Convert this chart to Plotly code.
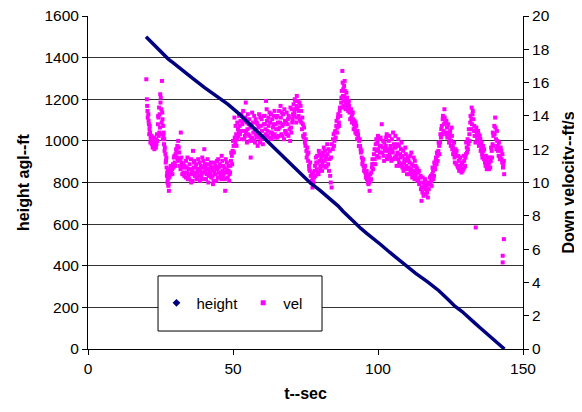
import plotly.graph_objects as go

# ---- data ----
# height above ground (ft) vs time (s)
height_t = [20, 22, 24, 26, 27.7, 29.3, 33, 36, 40.2, 44, 48.3, 52.4, 55.2, 58, 62.1, 65,
            69, 72, 74, 76.4, 80, 84, 86.2, 88, 90, 92, 94.2, 96, 98, 101, 104, 107,
            109.8, 113, 117, 121, 124, 126.5, 129, 131, 133.5, 135.2, 137, 139, 141, 143.6]
height_h = [1500, 1472, 1446, 1418, 1393, 1376, 1333, 1301, 1256, 1218, 1175, 1126, 1088, 1051, 994, 955,
            901, 858, 830, 801, 762, 717, 688, 661, 633, 606, 578, 557, 536, 501, 465, 430,
            398, 363, 324, 280, 240, 206, 180, 157, 123, 102, 81, 59, 33, 0]

# down velocity (ft/s) samples (t, v), read along the cloud
vel_samples = [
    (20.1, 16.2), (20.4, 14.6), (20.6, 13.9), (20.8, 14.1), (21.0, 13.5), (21.2, 13.2), (21.4, 13.0),
    (21.6, 12.7), (21.8, 12.5), (22.0, 12.3), (22.3, 12.1), (22.6, 12.4), (22.9, 12.0), (23.2, 12.2),
    (23.5, 12.6), (23.8, 12.9),
    (24.1, 13.5), (24.3, 13.9), (24.5, 14.5), (24.6, 13.0), (24.7, 14.1), (24.9, 15.3), (25.0, 14.8),
    (25.1, 15.1), (25.3, 14.4), (25.4, 13.6), (25.5, 16.1), (25.7, 13.8), (25.9, 13.4), (26.0, 12.8),
    (26.1, 13.0), (26.3, 12.6), (26.5, 12.1),
    (26.7, 11.7), (26.9, 11.3), (27.1, 10.9), (27.3, 10.6), (27.5, 10.2), (27.7, 9.8), (27.9, 9.5),
    (28.1, 10.4), (28.3, 10.8), (28.6, 10.7),
    (29.0, 10.8), (29.3, 11.1), (29.6, 11.5), (29.9, 11.2), (30.2, 11.7), (30.5, 11.9), (30.8, 12.2),
    (31.1, 12.5), (31.4, 11.8), (31.7, 11.4), (32.0, 13.0), (32.3, 11.2), (32.6, 10.9), (32.9, 10.6),
    (33.2, 10.4), (33.5, 10.9), (33.8, 11.3), (34.1, 10.6), (34.4, 10.2), (34.7, 10.8), (35.0, 11.1),
    (35.3, 10.5), (35.6, 10.0), (35.9, 10.7), (36.2, 11.9), (36.5, 11.2), (36.8, 10.4), (37.1, 10.9),
    (37.4, 10.3), (37.7, 10.6), (38.0, 11.4), (38.3, 10.8), (38.6, 10.1), (38.9, 11.0), (39.2, 10.5),
    (39.5, 10.9), (39.8, 11.3), (40.1, 12.0), (40.4, 10.7), (40.7, 10.2), (41.0, 10.8), (41.3, 11.1),
    (41.6, 10.4), (41.9, 10.6), (42.2, 11.0), (42.5, 10.3), (42.8, 10.7), (43.1, 9.9), (43.4, 10.9),
    (43.7, 11.2), (44.0, 10.5), (44.3, 10.1), (44.6, 10.8), (44.9, 11.4), (45.2, 10.6), (45.5, 10.3),
    (45.8, 11.0), (46.1, 11.6), (46.4, 10.7), (46.7, 10.4), (47.0, 10.9), (47.3, 9.5), (47.6, 10.6),
    (47.9, 11.2),
    (48.2, 10.3), (48.5, 10.7), (48.8, 10.5), (49.1, 11.0), (49.3, 11.3), (49.6, 11.6), (49.9, 11.9),
    (50.2, 12.2), (50.5, 13.9), (50.8, 12.4), (51.1, 12.9), (51.4, 12.6), (51.7, 13.2), (52.0, 13.0),
    (52.3, 13.4), (52.6, 13.7), (52.9, 14.1), (53.2, 13.5),
    (53.5, 14.3), (53.8, 13.1), (54.1, 12.8), (54.4, 14.8), (54.7, 13.6), (55.0, 13.2), (55.3, 12.9),
    (55.6, 13.8), (55.9, 12.5), (56.1, 11.5), (56.4, 13.4), (56.7, 12.7), (57.0, 13.0), (57.3, 14.0),
    (57.6, 12.4), (57.9, 12.9), (58.2, 13.6), (58.5, 12.2), (58.8, 13.3), (59.1, 12.7), (59.4, 13.9),
    (59.7, 12.6), (60.0, 13.1), (60.3, 12.3), (60.6, 13.5),
    (60.9, 14.0), (61.2, 13.2), (61.4, 14.9), (61.7, 13.7), (62.0, 12.8), (62.3, 13.4), (62.6, 14.2),
    (62.9, 13.0), (63.2, 12.6), (63.5, 13.8), (63.8, 13.3), (64.1, 14.0), (64.4, 12.9), (64.7, 13.5),
    (65.0, 13.9), (65.3, 12.7), (65.6, 13.2), (65.9, 14.3), (66.2, 13.6), (66.4, 14.6), (66.7, 12.9),
    (67.0, 13.4), (67.3, 14.1), (67.6, 12.6), (67.9, 13.7), (68.2, 13.0), (68.5, 14.2), (68.8, 13.5),
    (69.1, 12.8), (69.4, 13.9), (69.7, 12.5), (70.0, 13.3), (70.3, 14.4), (70.6, 13.8),
    (70.9, 14.7), (71.2, 14.2), (71.5, 14.9), (71.8, 13.6), (72.0, 15.2), (72.3, 14.5), (72.6, 14.0),
    (72.9, 14.8), (73.2, 13.7), (73.5, 14.3),
    (73.8, 13.2), (74.1, 13.5), (74.4, 12.7), (74.7, 12.9), (75.0, 12.2), (75.3, 11.9), (75.6, 12.1),
    (75.9, 11.3), (76.2, 11.0), (76.5, 10.7), (76.8, 10.4), (77.1, 10.1), (77.4, 9.7), (77.7, 10.6),
    (78.0, 10.3), (78.3, 11.0), (78.6, 11.5), (78.9, 10.8), (79.2, 11.2), (79.5, 10.5), (79.8, 11.7),
    (80.1, 11.0), (80.4, 11.4), (80.7, 10.7), (81.0, 11.8), (81.3, 12.1), (81.6, 11.3), (81.9, 10.9),
    (82.2, 11.6), (82.5, 12.3), (82.8, 11.1), (83.1, 10.7), (83.4, 11.9), (83.7, 10.0), (84.0, 9.7),
    (84.1, 12.3),
    (84.4, 12.0), (84.7, 12.9), (85.0, 12.5), (85.3, 13.1), (85.6, 13.4), (85.9, 13.0), (86.2, 13.9),
    (86.5, 13.6), (86.8, 14.3), (87.0, 14.0),
    (87.3, 14.8), (87.5, 15.5), (87.7, 16.7), (87.9, 15.2), (88.1, 14.6), (88.3, 15.8), (88.5, 16.1),
    (88.7, 15.0), (88.9, 14.7), (89.1, 15.4), (89.3, 15.1), (89.5, 14.5), (89.8, 14.8), (90.0, 14.6),
    (90.2, 14.2),
    (90.5, 14.3), (90.8, 13.9), (91.1, 14.1), (91.4, 13.8), (91.7, 13.5), (92.0, 13.3), (92.3, 13.6),
    (92.6, 12.9), (92.9, 13.1), (93.2, 12.7), (93.5, 12.5), (93.8, 12.2), (94.1, 11.8),
    (94.4, 11.5), (94.7, 11.3), (95.0, 11.0), (95.3, 10.9), (95.6, 10.6), (95.9, 10.5), (96.2, 10.2),
    (96.5, 10.0), (96.8, 10.3), (97.1, 9.5), (97.4, 10.1), (97.7, 10.6),
    (98.0, 11.1), (98.3, 10.8), (98.6, 11.7), (98.9, 11.4), (99.2, 12.3), (99.5, 11.9), (99.8, 12.4),
    (100.1, 12.0), (100.4, 12.6), (100.7, 11.8), (101.0, 12.2), (101.3, 13.5),
    (101.6, 12.1), (101.9, 11.6), (102.2, 12.4), (102.5, 11.9), (102.8, 12.7), (103.1, 11.4),
    (103.4, 12.0), (103.7, 12.5), (104.0, 11.7), (104.3, 12.2), (104.6, 11.3), (104.9, 11.9),
    (105.2, 13.0), (105.5, 12.3), (105.8, 11.5), (106.1, 12.1), (106.4, 11.0), (106.7, 11.8),
    (107.0, 12.6), (107.3, 11.2), (107.6, 11.7), (107.9, 12.0), (108.2, 11.1), (108.5, 11.6),
    (108.8, 10.7), (109.1, 11.4), (109.4, 12.1), (109.7, 11.0), (110.0, 10.5),
    (110.3, 11.5), (110.6, 10.9), (110.9, 11.2), (111.2, 10.6), (111.5, 11.8), (111.8, 10.3),
    (112.1, 11.0), (112.4, 10.7), (112.7, 11.3), (113.0, 10.4), (113.3, 10.9), (113.6, 10.1),
    (113.9, 10.6), (114.2, 9.9), (114.5, 10.3), (114.8, 9.6), (115.0, 8.9), (115.3, 9.4),
    (115.6, 10.0), (115.9, 9.7), (116.2, 10.2), (116.5, 9.3), (116.8, 9.8), (117.2, 9.1), (117.5, 9.6),
    (117.8, 10.0), (118.1, 9.9), (118.4, 10.1), (118.7, 10.5), (119.0, 10.7), (119.3, 10.4),
    (119.6, 11.0), (119.9, 11.3), (120.2, 11.1), (120.5, 11.6), (120.8, 11.9), (121.1, 12.2), (121.4, 12.4),
    (121.7, 12.7), (122.0, 13.4), (122.3, 13.8), (122.6, 13.1), (122.9, 14.4), (123.2, 13.6),
    (123.5, 12.9), (123.8, 13.3), (124.1, 12.8), (124.4, 13.0), (124.7, 12.6), (124.9, 13.1),
    (125.2, 12.5), (125.5, 12.8),
    (125.8, 12.2), (126.1, 11.8), (126.4, 11.5), (126.7, 12.0), (127.0, 11.1), (127.3, 11.6),
    (127.6, 10.9), (127.9, 11.3), (128.2, 10.8), (128.5, 11.0), (128.8, 10.6), (129.1, 11.2),
    (129.4, 10.8), (129.7, 11.3), (130.0, 11.0), (130.3, 11.7), (130.6, 12.1), (130.9, 12.6),
    (131.2, 12.3), (131.5, 12.9), (131.8, 13.6), (132.1, 13.2), (132.3, 14.5), (132.6, 14.1),
    (132.9, 13.8), (133.2, 13.4),
    (133.5, 13.1), (133.7, 7.3), (133.8, 12.8), (134.1, 13.0), (134.4, 12.5), (134.7, 12.9),
    (135.0, 12.3), (135.3, 12.6), (135.6, 12.0), (135.9, 11.7), (136.2, 12.2), (136.5, 11.4),
    (136.8, 11.6), (137.1, 11.0), (137.4, 11.3), (137.7, 10.9), (138.0, 11.2), (138.3, 10.8), (138.6, 11.5),
    (138.9, 11.3), (139.2, 11.9), (139.5, 12.3), (139.8, 12.8), (140.1, 13.4), (140.4, 13.9),
    (140.7, 12.6), (141.0, 13.1), (141.3, 12.2), (141.6, 11.6), (141.9, 12.0),
    (142.2, 11.6), (142.5, 11.9), (142.8, 11.2), (143.1, 10.9), (143.5, 10.5),
    (143.4, 6.6), (143.0, 5.6), (143.0, 5.2),
]

# further velocity samples in between (the cloud is dense)
vel_samples_more = [
    (20.3, 15.0), (20.5, 14.3), (20.9, 13.7), (21.1, 12.9), (21.3, 13.4), (21.5, 12.4), (21.9, 12.8),
    (22.1, 12.6), (22.5, 12.2), (22.8, 12.7), (23.0, 12.4), (23.4, 12.1), (23.6, 12.3), (23.9, 12.5),
    (24.2, 14.0), (24.4, 12.8), (24.8, 13.3), (25.2, 12.9), (25.6, 14.2), (25.8, 12.6), (26.2, 12.3),
    (26.4, 11.9),
    (26.8, 11.2), (27.0, 11.5), (27.2, 10.4), (27.4, 10.0), (27.6, 10.7), (27.8, 9.9), (28.0, 10.3),
    (28.2, 10.6), (28.5, 11.0), (28.8, 10.5),
    (29.1, 10.5), (29.5, 10.9), (29.8, 11.6), (30.1, 11.0), (30.4, 12.0), (30.7, 11.5), (31.0, 11.3),
    (31.3, 12.1), (31.6, 11.0), (31.9, 10.8), (32.2, 11.5), (32.5, 10.5), (32.8, 11.1),
    (33.3, 11.0), (33.7, 10.3), (34.0, 10.9), (34.3, 11.5), (34.6, 10.4), (34.9, 10.2), (35.2, 10.8),
    (35.5, 11.4), (35.8, 10.5), (36.1, 10.1), (36.4, 10.9), (36.7, 11.3), (37.0, 10.6), (37.3, 11.1),
    (37.6, 10.2), (37.9, 10.8), (38.2, 10.4), (38.5, 11.2), (38.8, 10.7), (39.1, 10.3), (39.4, 11.5),
    (39.7, 10.6), (40.0, 10.2), (40.3, 11.1), (40.6, 10.9), (40.9, 10.5), (41.2, 11.4), (41.5, 10.0),
    (41.8, 10.8), (42.1, 10.5), (42.4, 11.2), (42.7, 10.9), (43.0, 10.4), (43.3, 10.1), (43.6, 10.6),
    (43.9, 11.0), (44.2, 10.8), (44.5, 11.3), (44.8, 10.3), (45.1, 10.9), (45.4, 11.1), (45.7, 10.5),
    (46.0, 10.2), (46.3, 11.3), (46.6, 11.0), (46.9, 10.6), (47.2, 10.2), (47.5, 11.4), (47.8, 10.8),
    (48.4, 11.0), (48.7, 10.1), (49.0, 10.6), (49.4, 11.8), (49.7, 11.1), (50.0, 12.5), (50.3, 11.8),
    (50.6, 12.7), (50.9, 13.4), (51.2, 12.2), (51.5, 13.6), (51.8, 12.8), (52.1, 14.0), (52.4, 12.9),
    (52.7, 13.1), (53.0, 12.6),
    (53.6, 13.7), (53.9, 12.6), (54.2, 13.9), (54.5, 13.0), (54.8, 12.4), (55.1, 14.1), (55.4, 13.5),
    (55.7, 12.8), (56.0, 13.3), (56.3, 12.6), (56.6, 14.2), (56.9, 13.6), (57.2, 12.5), (57.5, 13.2),
    (57.8, 13.8), (58.1, 12.7), (58.4, 13.5), (58.7, 12.9), (59.0, 14.1), (59.3, 12.4), (59.6, 13.4),
    (59.9, 13.8), (60.2, 12.8), (60.5, 14.0), (60.8, 12.7),
    (61.0, 13.5), (61.3, 12.9), (61.6, 14.4), (61.9, 13.1), (62.2, 13.9), (62.5, 12.7), (62.8, 13.6),
    (63.1, 14.1), (63.4, 13.0), (63.7, 12.8), (64.0, 13.5), (64.3, 14.3), (64.6, 12.7), (64.9, 13.2),
    (65.2, 14.0), (65.5, 13.6), (65.8, 12.8), (66.1, 13.3), (66.5, 13.9), (66.8, 14.2), (67.1, 12.8),
    (67.4, 13.5), (67.7, 14.4), (68.0, 13.1), (68.3, 13.6), (68.6, 12.9), (68.9, 13.8), (69.2, 14.0),
    (69.5, 13.2), (69.8, 14.5), (70.1, 13.0), (70.4, 13.6), (70.7, 14.1),
    (71.0, 14.0), (71.3, 15.0), (71.6, 14.4), (71.9, 14.6), (72.1, 13.9), (72.4, 14.9), (72.7, 14.3),
    (73.0, 13.8), (73.3, 14.6), (73.6, 13.6),
    (73.9, 13.9), (74.2, 12.8), (74.5, 13.3), (74.8, 12.4), (75.1, 12.6), (75.4, 11.5), (75.7, 11.7),
    (76.0, 11.8), (76.3, 10.8), (76.6, 11.2), (76.9, 10.0), (77.2, 10.5), (77.5, 10.2), (77.8, 10.0),
    (78.1, 10.7), (78.4, 10.4), (78.7, 11.2), (79.0, 11.6), (79.3, 10.6), (79.6, 11.9), (79.9, 11.3),
    (80.2, 10.8), (80.5, 11.6), (80.8, 11.2), (81.1, 11.0), (81.4, 11.6), (81.7, 11.9), (82.0, 11.4),
    (82.3, 11.0), (82.6, 11.7), (82.9, 12.0), (83.2, 11.4), (83.5, 10.4), (83.8, 11.5),
    (84.5, 12.6), (84.8, 12.2), (85.1, 13.0), (85.4, 12.7), (85.7, 13.7), (86.0, 13.3), (86.3, 14.1),
    (86.6, 13.4), (86.9, 14.5),
    (87.4, 15.1), (87.6, 14.5), (87.8, 16.0), (88.0, 15.6), (88.2, 14.9), (88.4, 15.2), (88.6, 15.5),
    (88.8, 14.4), (89.0, 15.0), (89.2, 14.6), (89.4, 14.9), (89.7, 14.3), (89.9, 14.9), (90.1, 14.4),
    (90.4, 13.8), (90.7, 14.4), (91.0, 13.6), (91.3, 14.2), (91.6, 13.2), (91.9, 13.7), (92.2, 13.0),
    (92.5, 13.4), (92.8, 12.6), (93.1, 12.9), (93.4, 12.2), (93.7, 12.6), (94.0, 12.0),
    (94.3, 11.9), (94.6, 11.1), (94.9, 11.4), (95.2, 10.7), (95.5, 11.0), (95.8, 10.3), (96.1, 10.7),
    (96.4, 10.4), (96.7, 9.9), (97.0, 10.0), (97.3, 10.5), (97.6, 10.2), (97.9, 10.9),
    (98.1, 11.4), (98.4, 11.1), (98.8, 12.0), (99.1, 11.1), (99.4, 12.6), (99.7, 11.6), (100.0, 12.8),
    (100.3, 11.5), (100.6, 12.2), (100.9, 12.7),
    (101.5, 11.8), (101.8, 12.5), (102.1, 11.3), (102.4, 12.0), (102.7, 12.2), (103.0, 12.9),
    (103.3, 11.6), (103.6, 11.9), (103.9, 12.8), (104.2, 11.5), (104.5, 12.0), (104.8, 12.6),
    (105.1, 11.8), (105.4, 11.4), (105.7, 12.1), (106.0, 12.8), (106.3, 11.6), (106.6, 12.3),
    (106.9, 11.4), (107.2, 12.2), (107.5, 11.0), (107.8, 11.5), (108.1, 12.4), (108.4, 10.9),
    (108.7, 11.9), (109.0, 11.2), (109.3, 10.8), (109.6, 11.7), (109.9, 11.3),
    (110.2, 10.8), (110.5, 11.4), (110.8, 10.5), (111.1, 11.6), (111.4, 10.8), (111.7, 11.1),
    (112.0, 10.5), (112.3, 11.5), (112.6, 10.2), (112.9, 11.0), (113.2, 10.6), (113.5, 10.8),
    (113.8, 10.2), (114.1, 10.7), (114.4, 10.0), (114.7, 10.4), (115.1, 9.7), (115.4, 10.3),
    (115.7, 9.2), (116.0, 9.9), (116.3, 9.6), (116.6, 10.0), (116.9, 9.4), (117.3, 9.9),
    (117.9, 10.3), (118.2, 10.4), (118.5, 9.8), (118.8, 10.9), (119.1, 10.2), (119.4, 11.2),
    (119.7, 10.8), (120.0, 11.5), (120.3, 11.8), (120.6, 11.3), (120.9, 12.4), (121.2, 11.7), (121.5, 12.9),
    (121.8, 13.2), (122.1, 12.9), (122.4, 14.0), (122.7, 13.5), (123.0, 13.9), (123.3, 13.0),
    (123.6, 13.7), (123.9, 12.7), (124.2, 13.5), (124.5, 12.4), (124.8, 12.9), (125.1, 12.2),
    (125.4, 13.3), (125.6, 12.0),
    (125.9, 11.7), (126.2, 12.4), (126.5, 11.2), (126.8, 11.7), (127.1, 11.9), (127.4, 11.0),
    (127.7, 11.6), (128.0, 10.7), (128.3, 11.5), (128.6, 10.8), (128.9, 11.1), (129.2, 10.7),
    (129.5, 11.6), (129.8, 10.9), (130.1, 11.5), (130.4, 12.4), (130.7, 11.8),
    (131.0, 12.0), (131.3, 13.2), (131.6, 12.5), (131.9, 14.0), (132.2, 13.8), (132.4, 13.5),
    (132.7, 14.3), (133.0, 13.1), (133.3, 12.8),
    (133.6, 12.4), (133.9, 13.3), (134.2, 12.6), (134.5, 13.1), (134.8, 12.2), (135.1, 12.8),
    (135.4, 11.9), (135.7, 12.4), (136.0, 11.5), (136.3, 11.9), (136.6, 12.0), (136.9, 11.2),
    (137.2, 11.6), (137.5, 10.8), (137.8, 11.5), (138.1, 11.0), (138.4, 11.2), (138.7, 10.9),
    (139.0, 12.1), (139.3, 11.5), (139.6, 13.0), (139.9, 12.2), (140.2, 12.9), (140.5, 13.3),
    (140.8, 12.0), (141.1, 12.5), (141.4, 11.9), (141.7, 12.4), (142.0, 11.4),
    (142.3, 12.1), (142.6, 11.4), (142.9, 11.7), (143.2, 11.1), (143.4, 11.3),
]

vel_t = [p[0] for p in vel_samples + vel_samples_more]
vel_v = [p[1] for p in vel_samples + vel_samples_more]

x_ticks = [0, 50, 100, 150]
height_ticks = list(range(0, 1601, 200))
vel_ticks = list(range(0, 21, 2))

NAVY = "#000080"
MAGENTA = "#FF00FF"
FONT = "Liberation Sans, Arial, sans-serif"

fig = go.Figure()
# velocity on primary y (drawn first, below)
fig.add_trace(go.Scatter(x=vel_t, y=vel_v, mode="markers", yaxis="y",
                         marker=dict(symbol="square", size=4, color=MAGENTA, line=dict(width=0)),
                         name="vel", showlegend=False))
# height on overlaying y2 (drawn on top)
fig.add_trace(go.Scatter(x=height_t, y=height_h, mode="lines", yaxis="y2",
                         line=dict(color=NAVY, width=3.5),
                         name="height", showlegend=False))
# legend entries
fig.add_trace(go.Scatter(x=[None], y=[None], mode="markers", yaxis="y2", name="height",
                         marker=dict(symbol="diamond", size=6, color=NAVY)))
fig.add_trace(go.Scatter(x=[None], y=[None], mode="markers", yaxis="y", name="vel",
                         marker=dict(symbol="square", size=5, color=MAGENTA)))

axis_common = dict(showline=True, linecolor="black", linewidth=1, ticks="outside",
                   ticklen=5, tickcolor="black", tickwidth=1, zeroline=False, automargin=False,
                   ticklabeloverflow="allow",
                   tickfont=dict(family=FONT, size=15.5, color="black"))

# the page body adds an 8px offset, so the figure is 8px smaller and margins are shifted
fig.update_layout(
    width=574, height=404,
    margin=dict(l=80, r=59, t=8, b=63),
    paper_bgcolor="white", plot_bgcolor="white",
    font=dict(family=FONT, color="black"),
    xaxis=dict(range=[0, 150], tickvals=x_ticks, showgrid=False,
               title=dict(text="<b>t--sec</b>", font=dict(family=FONT, size=16), standoff=12),
               **axis_common),
    yaxis=dict(range=[0, 20], tickvals=vel_ticks, side="right", showgrid=False,
               title=dict(text="<b>Down velocity--ft/s</b>", font=dict(family=FONT, size=16), standoff=14),
               **axis_common),
    yaxis2=dict(range=[0, 1600], tickvals=height_ticks, side="left", overlaying="y",
                showgrid=True, gridcolor="#333333", gridwidth=1,
                title=dict(text="<b>height agl--ft</b>", font=dict(family=FONT, size=16), standoff=10),
                **axis_common),
    legend=dict(orientation="h", x=0.331, y=0.138, xanchor="center", yanchor="middle",
                bgcolor="rgba(0,0,0,0)", borderwidth=0,
                font=dict(family=FONT, size=15, color="black"), itemwidth=30),
    shapes=[dict(type="rect", xref="paper", yref="paper", x0=0.161, x1=0.538, y0=0.054, y1=0.2195,
                 line=dict(color="black", width=1), fillcolor="white", layer="above")],
    showlegend=True,
)

fig.write_html("out.html")
